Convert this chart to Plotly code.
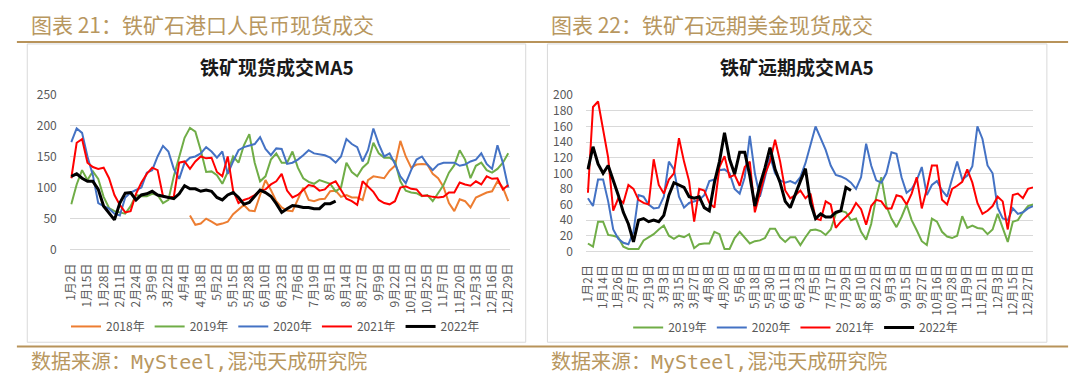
import plotly.graph_objects as go

W, H = 1080, 387
CJK = "Noto Sans CJK SC"
TAN = "#B8975F"
GRAY = "#595959"
GRID = "#D9D9D9"

# ---------------- data ----------------
LEFT_TICKS = ["1月2日", "1月15日", "1月28日", "2月11日", "2月24日", "3月9日", "3月22日",
              "4月4日", "4月18日", "5月2日", "5月15日", "5月28日", "6月10日", "6月23日",
              "7月6日", "7月19日", "8月1日", "8月14日", "8月27日", "9月9日", "9月22日",
              "10月12日", "10月25日", "11月7日", "11月20日", "12月3日", "12月16日", "12月29日"]
RIGHT_TICKS = ["1月2日", "1月14日", "1月26日", "2月7日", "2月19日", "3月3日", "3月15日",
               "3月27日", "4月8日", "4月20日", "5月6日", "5月18日", "5月30日", "6月11日",
               "6月23日", "7月5日", "7月17日", "7月29日", "8月10日", "8月22日", "9月3日",
               "9月15日", "9月27日", "10月16日", "10月28日", "11月9日", "11月21日",
               "12月3日", "12月15日", "12月27日"]

# 铁矿现货成交MA5 (one value every third of a tick interval)
spot_2018 = [None] * 22 + [
    55, 40, 42, 50, 45, 40, 42, 45, 57, 64, 72, 63, 62, 88, 112, 96, 78, 68, 63, 62,
    82, 100, 80, 78, 81, 82, 94, 95, 85, 88, 84, 84, 80, 112, 118, 117, 115, 127, 135, 175,
    150, 132, 137, 138, 137, 122, 115, 101, 75, 62, 81, 78, 68, 84, 88, 92, 94, 110, 100, 78]
spot_2019 = [
    73, 105, 128, 112, 126, 114, 85, 67, 62, 60, 58, 70, 88, 86,
    86, 90, 88, 75, 80, 118, 150, 180, 196, 190, 160, 125, 126, 120, 106, 125, 150, 140, 168,
    186, 140, 110, 118, 145, 155, 140,
    140, 158, 132, 115, 109, 106, 112, 109, 106, 94, 100, 140, 125, 118, 132, 140, 172, 155,
    148, 148, 142, 110, 95, 92, 91, 86,
    88, 78, 92, 104, 124, 136, 160, 145, 115, 135, 140, 128, 124, 130, 140, 155]
spot_2020 = [
    173, 195, 188, 150, 120, 75, 70, 66, 58, 55, 84, 92, 96, 100,
    124, 128, 150, 167, 158, 130, 114, 140, 148, 150, 155, 165, 158, 148, 158, 122, 142, 160,
    165, 168, 170, 181, 162, 152, 163, 162,
    138, 140, 145, 152, 160, 155, 153, 152, 148, 140, 150, 178, 170, 165, 142, 160, 195, 170,
    150, 155, 138, 118, 107, 128, 145, 150,
    137, 128, 137, 140, 140, 140, 135, 137, 142, 145, 155, 138, 130, 168, 140, 100]
spot_2021 = [
    115, 172, 178, 140, 133, 130, 132, 115, 88, 72, 60, 62, 90, 108,
    122, 132, 128, 86, 84, 85, 140, 142, 130, 142, 150, 147, 148, 125, 118, 150, 95, 75, 80,
    83, 88, 95, 97, 105, 110, 122,
    95, 84, 88, 96, 104, 102, 95, 97, 106, 110, 95, 82, 78, 72, 110, 102, 93, 80, 75, 73, 78,
    100, 102, 98, 97, 87,
    87, 85, 84, 85, 92, 92, 108, 105, 103, 110, 105, 118, 114, 115, 97, 104]
spot_2022 = [
    118, 122, 115, 110, 110, 97, 70, 58, 48, 75, 91, 92, 80, 88, 90, 94, 88, 86, 84, 82,
    90, 103, 98, 98, 94, 96, 94, 84, 80, 88, 92, 84, 73, 76, 86, 96, 92, 86, 74, 60,
    66, 71, 70, 68, 68, 66, 66, 74, 74, 78]

# 铁矿远期成交MA5
fwd_2019 = [
    10, 6, 38, 38, 21, 20, 18, 6, 3, 3, 3, 14, 18, 22, 28, 33, 20, 16, 20, 18, 22, 4, 9, 10,
    10, 25, 22, 3,
    3, 17, 25, 18, 10, 13, 14, 17, 29, 29, 18, 12, 18, 18, 8, 18, 27, 28, 26, 21, 28, 48, 52,
    50, 40, 42, 25,
    15, 35, 70, 95, 58, 42, 31, 44, 60, 40, 27, 13, 8, 42, 38, 25, 19, 17, 20, 45, 30, 33, 30,
    29, 22, 28, 48, 30, 12, 38, 40, 50, 58, 60]
fwd_2020 = [
    68, 58, 92, 92, 64, 28, 16, 11, 9, 25, 72, 70, 60, 55, 56, 70, 115, 105, 70, 56, 62, 64,
    66, 72, 90, 92, 104, 105,
    100, 80, 74, 95, 148, 100, 70, 95, 122, 100, 91, 88, 90, 87, 95, 113, 138, 160, 145, 130,
    110, 98, 96, 93, 88, 80, 95,
    138, 110, 91, 88, 100, 127, 125, 95, 75, 80, 91, 108, 72, 85, 90, 78, 70, 93, 115, 92, 97,
    109, 160, 144, 110, 100, 56, 42, 40, 55, 48, 50, 55, 58]
fwd_2021 = [
    75, 185, 192, 158, 120, 52, 68, 62, 85, 80, 66, 62, 60, 118, 85, 74, 92, 100, 145, 115,
    90, 38, 80, 78, 62, 56, 108, 122,
    95, 98, 84, 108, 115, 50, 76, 99, 115, 143, 115, 78, 68, 72, 78, 68, 74, 42, 40, 64, 60,
    30, 38, 44, 50, 62, 54,
    34, 58, 66, 64, 55, 55, 72, 70, 60, 74, 95, 55, 80, 110, 110, 66, 60, 80, 84, 89, 105, 88,
    62, 48, 52, 58, 70, 64, 28, 72, 74, 68, 80, 82]
fwd_2022 = [
    105, 134, 112, 100, 110, 92, 72, 50, 35, 12, 40, 42, 38, 40, 38, 46, 72, 88, 85, 82, 70,
    68, 70, 56, 52, 88, 115, 152, 118, 99, 127, 127, 97, 58, 85, 107, 133, 105, 88, 64, 56,
    74, 90, 106, 62, 42, 48, 44, 44, 50, 52, 82, 78]

LEFT_SERIES = [("2018年", spot_2018, "#ED7D31", 2),
               ("2019年", spot_2019, "#70AD47", 2),
               ("2020年", spot_2020, "#4472C4", 2),
               ("2021年", spot_2021, "#FF0000", 2),
               ("2022年", spot_2022, "#000000", 3)]
RIGHT_SERIES = [("2019年", fwd_2019, "#70AD47", 2),
                ("2020年", fwd_2020, "#4472C4", 2),
                ("2021年", fwd_2021, "#FF0000", 2),
                ("2022年", fwd_2022, "#000000", 3)]

STEP = 3  # samples per labelled tick


def px_x(v):
    return v / W


def px_y(v):
    return 1 - v / H


fig = go.Figure()
for name, vals, col, lw in LEFT_SERIES:
    fig.add_trace(go.Scatter(x=list(range(len(vals))), y=vals, name=name, mode="lines",
                             line=dict(color=col, width=lw), xaxis="x", yaxis="y",
                             legend="legend", hoverinfo="skip"))
for name, vals, col, lw in RIGHT_SERIES:
    fig.add_trace(go.Scatter(x=list(range(len(vals))), y=vals, name=name, mode="lines",
                             line=dict(color=col, width=lw), xaxis="x2", yaxis="y2",
                             legend="legend2", hoverinfo="skip"))

tickfont = dict(family=CJK, size=12, color=GRAY)

xcommon = dict(tickmode="array", tickangle=-90, showgrid=False, zeroline=False,
               showline=False, ticks="outside", ticklen=8, tickcolor="rgba(0,0,0,0)",
               tickfont=tickfont, fixedrange=True)
ycommon = dict(showgrid=True, gridcolor=GRID, gridwidth=1, zeroline=True,
               zerolinecolor=GRID, zerolinewidth=1, showline=False, ticks="outside",
               ticklen=10, tickcolor="rgba(0,0,0,0)", tickfont=tickfont, fixedrange=True)

fig.update_layout(
    width=W, height=H, margin=dict(l=0, r=0, t=0, b=0),
    paper_bgcolor="white", plot_bgcolor="white",
    font=dict(family=CJK, color=GRAY),
    xaxis=dict(xcommon, domain=[px_x(62), px_x(508)], range=[-0.2, 81.4],
               tickvals=[k * STEP for k in range(len(LEFT_TICKS))], ticktext=LEFT_TICKS,
               anchor="y"),
    yaxis=dict(ycommon, domain=[px_y(250.7), px_y(88.2)], range=[0, 250], dtick=50,
               anchor="x"),
    xaxis2=dict(xcommon, domain=[px_x(585), px_x(1037.5)], range=[-0.3, 88],
                tickvals=[k * STEP for k in range(len(RIGHT_TICKS))], ticktext=RIGHT_TICKS,
                anchor="y2"),
    yaxis2=dict(ycommon, domain=[px_y(252.4), px_y(89.2)], range=[0, 200], dtick=20,
                anchor="x2"),
    legend=dict(orientation="h", x=px_x(270), xanchor="center", y=px_y(331),
                yanchor="middle", font=dict(family=CJK, size=12, color=GRAY),
                bgcolor="rgba(0,0,0,0)"),
    legend2=dict(orientation="h", x=px_x(797), xanchor="center", y=px_y(332),
                 yanchor="middle", font=dict(family=CJK, size=12, color=GRAY),
                 bgcolor="rgba(0,0,0,0)"),
)

shapes = [
    dict(type="rect", xref="paper", yref="paper", x0=px_x(18.5), x1=px_x(523.5),
         y0=px_y(347.5), y1=px_y(35.5), line=dict(color=GRID, width=1), layer="below"),
    dict(type="rect", xref="paper", yref="paper", x0=px_x(545.5), x1=px_x(1051.5),
         y0=px_y(347.5), y1=px_y(35.5), line=dict(color=GRID, width=1), layer="below"),
    dict(type="line", xref="paper", yref="paper", x0=px_x(8), x1=px_x(1073),
         y0=px_y(33.5), y1=px_y(33.5), line=dict(color="#B8935A", width=2)),
    dict(type="line", xref="paper", yref="paper", x0=px_x(8), x1=px_x(1073),
         y0=px_y(352), y1=px_y(352), line=dict(color="#B8935A", width=2)),
]
fig.update_layout(shapes=shapes)

annotations = [
    dict(text="图表 21：铁矿石港口人民币现货成交", x=px_x(20), y=px_y(15),
         font=dict(family=CJK, size=21, color=TAN)),
    dict(text="图表 22：铁矿石远期美金现货成交", x=px_x(547), y=px_y(15),
         font=dict(family=CJK, size=21, color=TAN)),
    dict(text="数据来源：MySteel,混沌天成研究院", x=px_x(20), y=px_y(368),
         font=dict(family="DejaVu Sans Mono, " + CJK, size=20, color=TAN)),
    dict(text="数据来源：MySteel,混沌天成研究院", x=px_x(547), y=px_y(368),
         font=dict(family="DejaVu Sans Mono, " + CJK, size=20, color=TAN)),
]
for a in annotations:
    a.update(xref="paper", yref="paper", xanchor="left", yanchor="middle", showarrow=False)
annotations += [
    dict(text="<b>铁矿现货成交MA5</b>", x=px_x(272), y=px_y(59), xref="paper", yref="paper",
         xanchor="center", yanchor="middle", showarrow=False,
         font=dict(family=CJK, size=19, color="#1a1a1a")),
    dict(text="<b>铁矿远期成交MA5</b>", x=px_x(798), y=px_y(59), xref="paper", yref="paper",
         xanchor="center", yanchor="middle", showarrow=False,
         font=dict(family=CJK, size=19, color="#1a1a1a")),
]
fig.update_layout(annotations=annotations)

fig.write_html("out.html", config={"displayModeBar": False},
               post_script="document.body.style.margin='0';document.body.style.padding='0';")
